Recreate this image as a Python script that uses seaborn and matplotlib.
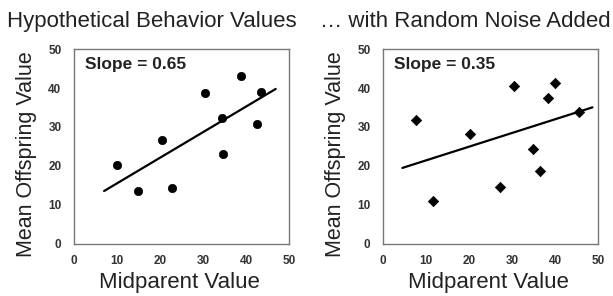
#!/usr/bin/env python3

import numpy as np
import pandas as pd
import seaborn as sns
from matplotlib import pyplot as plt
from matplotlib.ticker import MultipleLocator

# hypothetical values (left panel)
hyp_x = [9.9, 14.9, 20.4, 22.9, 30.5, 34.5, 34.6, 38.9, 42.6, 43.5]
hyp_y = [20.1, 13.5, 26.6, 14.4, 38.8, 32.3, 23.0, 43.2, 30.7, 39.1]
hyp_fit_range = [7.0, 46.9]

# same with random noise added (right panel)
noise_x = [7.7, 11.5, 20.1, 27.2, 30.5, 34.8, 36.5, 38.4, 39.8, 45.5]
noise_y = [31.7, 11.0, 28.3, 14.5, 40.6, 24.3, 18.6, 37.5, 41.4, 33.9]
noise_fit_range = [4.5, 48.6]

titles = ['Hypothetical Behavior Values', '\u2026 with Random Noise Added']
slope_labels = ['Slope = 0.65', 'Slope = 0.35']


def panel(ax, x, y, fit_range, marker, size, slope_label):
    df = pd.DataFrame({'x': x, 'y': y})
    sns.scatterplot(data=df, x='x', y='y', marker=marker, s=size,
                    color='black', edgecolor='black', linewidth=0.5, ax=ax)

    # least squares line over the drawn range
    b, a = np.polyfit(df['x'], df['y'], 1)
    fx = np.array(fit_range)
    fit = pd.DataFrame({'x': fx, 'y': a + b * fx})
    sns.lineplot(data=fit, x='x', y='y', color='black', linewidth=1.6, ax=ax)

    ax.set_xlim(0, 50)
    ax.set_ylim(0, 50)
    ax.xaxis.set_major_locator(MultipleLocator(10))
    ax.yaxis.set_major_locator(MultipleLocator(10))
    ax.xaxis.set_minor_locator(MultipleLocator(5))
    ax.yaxis.set_minor_locator(MultipleLocator(5))
    ax.tick_params(which='both', direction='out', length=3, width=0.8,
                   color='#666666', labelsize=8.5, labelcolor='#333333')
    ax.tick_params(axis='x', pad=5)
    ax.tick_params(axis='y', pad=6)
    for lab in ax.get_xticklabels() + ax.get_yticklabels():
        lab.set_fontweight('bold')
    for sp in ax.spines.values():
        sp.set_color('#777777')
        sp.set_linewidth(1.0)
        sp.set_visible(True)

    ax.set_xlabel('Midparent Value', fontsize=16, color='#222222')
    ax.set_ylabel('Mean Offspring Value', fontsize=15.5, color='#222222')
    ax.xaxis.set_label_coords(0.49, -0.146)
    ax.yaxis.set_label_coords(-0.172, 0.458)
    ax.text(2.6, 44.8, slope_label, fontsize=12.5, fontweight='bold',
            color='#222222', va='baseline', ha='left')


sns.set_theme(style='white')
plt.rcParams['font.family'] = ['Liberation Sans', 'DejaVu Sans']

f = plt.figure(figsize=(6.13, 2.96), dpi=100)
ax0 = f.add_axes([0.1207, 0.177, 0.3508, 0.657])
ax1 = f.add_axes([0.6248, 0.177, 0.3515, 0.657])

panel(ax0, hyp_x, hyp_y, hyp_fit_range, 'o', 36, slope_labels[0])
panel(ax1, noise_x, noise_y, noise_fit_range, 'D', 28, slope_labels[1])

f.text(0.248, 0.91, titles[0], fontsize=16, color='#222222',
       ha='center', va='baseline')
f.text(0.759, 0.91, titles[1], fontsize=16, color='#222222',
       ha='center', va='baseline')

f.savefig('out.png', dpi=100, facecolor='white')
